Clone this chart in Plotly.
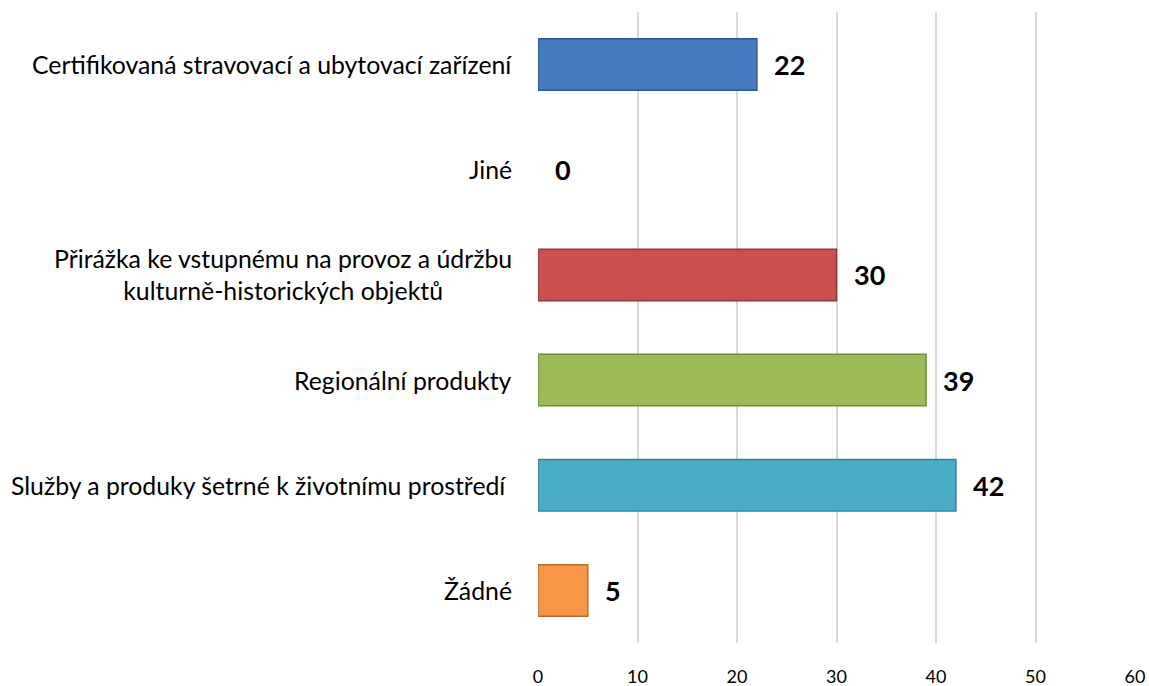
import plotly.graph_objects as go

categories = [
    "Certifikovaná stravovací a ubytovací zařízení",
    "Jiné",
    "Přirážka ke vstupnému na provoz a údržbu<br>kulturně-historických objektů",
    "Regionální produkty",
    "Služby a produky šetrné k životnímu prostředí ",
    "Žádné",
]
values = [22, 0, 30, 39, 42, 5]
colors = ["#4679BD", "#4F81BD", "#C9504F", "#9BBB59", "#4BACC6", "#F79646"]
edge_colors = ["#2C5A8F", "#2C5A8F", "#8C3836", "#6E8A3C", "#31859C", "#B66D2F"]
x_ticks = [0, 10, 20, 30, 40, 50, 60]

FONT = "Lato, Carlito, Calibri, sans-serif"

fig = go.Figure()
fig.add_trace(go.Bar(
    y=categories,
    x=values,
    orientation="h",
    marker=dict(color=colors,
                line=dict(color=edge_colors,
                          width=[1.5 if v > 0 else 0 for v in values])),
    width=0.49,
    hoverinfo="x+y",
))

annotations = []
for c, v in zip(categories, values):
    annotations.append(dict(
        x=v, y=c, xref="x", yref="y", text="<b>%d</b>" % v,
        showarrow=False, xanchor="left", xshift=15,
        font=dict(family=FONT, size=27, color="black"),
    ))
    annotations.append(dict(
        x=0, y=c, xref="paper", yref="y", text=c,
        showarrow=False, xanchor="right", align="center", xshift=-24,
        font=dict(family=FONT, size=24.8, color="black"),
    ))

fig.update_layout(
    width=1149, height=686,
    margin=dict(l=538, r=14, t=12, b=43),
    paper_bgcolor="white", plot_bgcolor="white",
    showlegend=False,
    font=dict(family=FONT, color="black"),
    annotations=annotations,
)
fig.update_xaxes(
    range=[0, 60], tickvals=x_ticks, showgrid=True, gridcolor="#D9D9D9",
    gridwidth=1.5, zeroline=False, showline=False, automargin=False,
    tickfont=dict(family=FONT, size=18, color="black"), ticks="",
    ticklabelstandoff=21, ticklabeloverflow="allow",
)
fig.update_yaxes(
    autorange="reversed", showticklabels=False, showgrid=False,
    zeroline=False, showline=False, automargin=False,
)

fig.write_html(
    "out.html",
    config={"responsive": False, "displayModeBar": False},
    post_script="document.body.style.margin='0';document.body.style.overflow='hidden';",
)
